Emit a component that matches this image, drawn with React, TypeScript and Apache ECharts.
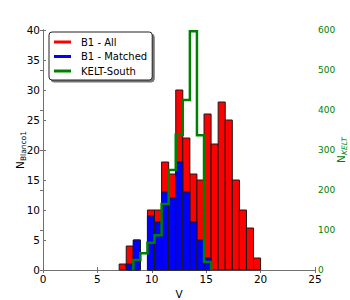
import React, { useEffect, useRef } from "react";
import * as echarts from "echarts";

// Histogram bin edges (V magnitude)
const binEdges = [7.0, 7.65, 8.3, 8.95, 9.6, 10.25, 10.9, 11.55, 12.2, 12.85, 13.5, 14.15, 14.8, 15.45, 16.1, 16.75, 17.4, 18.05, 18.7, 19.35, 20.0];
// Counts per bin
const b1AllCounts = [1, 4, 5, 0, 10, 10, 18, 16, 30, 22, 16, 15, 26, 21, 28, 25, 15, 10, 7, 2];
const b1MatchedCounts = [0, 1, 5, 0, 9, 8, 13, 12, 18, 13, 8, 5, 2, 0, 0, 0, 0, 0, 0, 0];
// KELT-South counts start at bin index 2
const keltFirstBin = 2;
const keltCounts = [25, 42, 68, 87, 165, 250, 338, 425, 597, 337, 20];

const xTicks = [0, 5, 10, 15, 20, 25];
const leftTicks = [0, 5, 10, 15, 20, 25, 30, 35, 40];
const rightTicks = [0, 100, 200, 300, 400, 500, 600];

const FONT = "DejaVu Sans";
const GREEN = "#008000";

function barData(counts: number[]) {
  return counts.map((c, i) => [binEdges[i], binEdges[i + 1], c]);
}

function stepData() {
  const pts: number[][] = [];
  const start = binEdges[keltFirstBin];
  pts.push([start, 0]);
  keltCounts.forEach((c, i) => {
    const a = binEdges[keltFirstBin + i];
    const b = binEdges[keltFirstBin + i + 1];
    pts.push([a, c]);
    pts.push([b, c]);
  });
  pts.push([binEdges[keltFirstBin + keltCounts.length], 0]);
  return pts;
}

function makeRender(fill: string) {
  return (params: any, api: any) => {
    const x0 = api.value(0);
    const x1 = api.value(1);
    const v = api.value(2);
    if (!v) return null;
    const p0 = api.coord([x0, v]);
    const p1 = api.coord([x1, 0]);
    return {
      type: "rect",
      shape: { x: p0[0], y: p0[1], width: p1[0] - p0[0], height: p1[1] - p0[1] },
      style: { fill, stroke: "#1a1a1a", lineWidth: 1 },
    };
  };
}

export default function App() {
  const ref = useRef<HTMLDivElement>(null);
  useEffect(() => {
    if (!ref.current) return;
    const chart = echarts.init(ref.current, undefined, { renderer: "svg" });
    const axisLine = { show: true, lineStyle: { color: "#707070", width: 1 } };
    chart.setOption({
      animation: false,
      backgroundColor: "#fff",
      grid: { left: 43, right: 35, top: 30, bottom: 30, containLabel: false, outerBoundsMode: "none" },
      legend: {
        orient: "vertical",
        left: 49,
        top: 32,
        align: "left",
        icon: "rect",
        itemWidth: 17,
        itemHeight: 3,
        itemGap: 2.5,
        padding: [4, 5, 3, 5],
        backgroundColor: "#fff",
        borderColor: "#222",
        borderWidth: 1,
        borderRadius: 3,
        shadowColor: "rgba(0,0,0,0.55)",
        shadowOffsetX: 2,
        shadowOffsetY: 2,
        shadowBlur: 0,
        textStyle: { fontFamily: FONT, fontSize: 10, color: "#000", lineHeight: 12, padding: [0, 0, 0, 5] },
        data: ["B1 - All", "B1 - Matched", "KELT-South"],
        z: 10,
      },
      xAxis: [
        {
          type: "value",
          min: 0,
          max: 25,
          interval: 5,
          position: "bottom",
          name: "V",
          nameLocation: "middle",
          nameGap: 14,
          nameTextStyle: { fontFamily: FONT, fontSize: 10.5, color: "#000" },
          axisLine,
          axisTick: { show: true, inside: true, length: 3, lineStyle: { color: "#707070" } },
          axisLabel: { fontFamily: FONT, fontSize: 10.5, color: "#000", margin: 3, customValues: xTicks },
          splitLine: { show: false },
        },
        {
          type: "value",
          min: 0,
          max: 25,
          interval: 5,
          position: "top",
          axisLine,
          axisTick: { show: true, inside: true, length: 3, lineStyle: { color: "#707070" } },
          axisLabel: { show: false },
          splitLine: { show: false },
        },
      ],
      yAxis: [
        {
          type: "value",
          min: 0,
          max: 40,
          interval: 5,
          position: "left",
          axisLine,
          axisTick: { show: true, inside: true, length: 3, lineStyle: { color: "#707070" } },
          axisLabel: { fontFamily: FONT, fontSize: 10.5, color: "#000", margin: 3, customValues: leftTicks },
          splitLine: { show: false },
        },
        {
          type: "value",
          min: 0,
          max: 600,
          interval: 100,
          position: "right",
          axisLine,
          axisTick: { show: true, inside: true, length: 3, lineStyle: { color: "#707070" } },
          axisLabel: { fontFamily: FONT, fontSize: 9, color: GREEN, margin: 3, customValues: rightTicks },
          splitLine: { show: false },
        },
      ],
      series: [
        {
          name: "B1 - All",
          type: "custom",
          xAxisIndex: 0,
          yAxisIndex: 0,
          itemStyle: { color: "#ff0000" },
          renderItem: makeRender("#ff0000"),
          encode: { x: [0, 1], y: 2 },
          data: barData(b1AllCounts),
          z: 2,
        },
        {
          name: "B1 - Matched",
          type: "custom",
          xAxisIndex: 0,
          yAxisIndex: 0,
          itemStyle: { color: "#0000ff" },
          renderItem: makeRender("#0000ff"),
          encode: { x: [0, 1], y: 2 },
          data: barData(b1MatchedCounts),
          z: 3,
        },
        {
          name: "KELT-South",
          type: "line",
          xAxisIndex: 0,
          yAxisIndex: 1,
          showSymbol: false,
          symbol: "none",
          itemStyle: { color: GREEN },
          lineStyle: { color: GREEN, width: 2.5, join: "miter" },
          data: stepData(),
          z: 4,
        },
      ],
      graphic: [
        {
          type: "text",
          x: 20,
          y: 150,
          rotation: Math.PI / 2,
          style: {
            text: "{n|N}{s|Blanco1}",
            align: "center",
            verticalAlign: "middle",
            rich: {
              n: { fontFamily: FONT, fontSize: 10.5, fill: "#000", lineHeight: 14, verticalAlign: "middle" },
              s: { fontFamily: FONT, fontSize: 7.5, fill: "#000", lineHeight: 9, verticalAlign: "bottom" },
            },
          },
        },
        {
          type: "text",
          x: 341,
          y: 150,
          rotation: Math.PI / 2,
          style: {
            text: "{n|N}{s|KELT}",
            align: "center",
            verticalAlign: "middle",
            rich: {
              n: { fontFamily: FONT, fontSize: 10.5, fill: GREEN, lineHeight: 14, verticalAlign: "middle" },
              s: { fontFamily: FONT, fontSize: 7.5, fontStyle: "italic", fill: GREEN, lineHeight: 9, verticalAlign: "bottom" },
            },
          },
        },
      ],
    });
    return () => chart.dispose();
  }, []);
  return <div ref={ref} style={{ width: 350, height: 300, position: "absolute", left: 0, top: 0 }} />;
}
